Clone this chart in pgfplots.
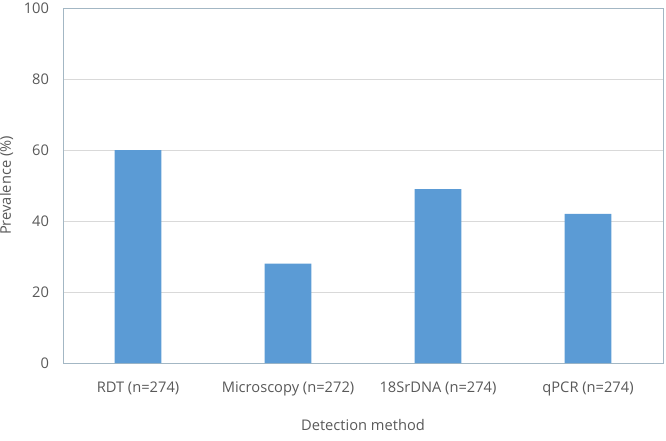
\documentclass[border=0pt]{standalone}
\usepackage{pgfplots}
\pgfplotsset{compat=1.18}
\usepackage{fontspec}
\setmainfont{Open Sans}
\definecolor{barblue}{HTML}{5B9BD5}
\definecolor{txtgray}{HTML}{595959}
\definecolor{gridgray}{HTML}{D9D9D9}
\definecolor{axisline}{HTML}{A3B7C4}
\begin{document}
\begin{tikzpicture}
  % 1 px of the reference = 0.75pt
  \useasboundingbox (0pt,0pt) rectangle (499.5pt,330pt);
  \begin{axis}[
      at={(47.25pt,57.75pt)}, anchor=south west,
      scale only axis,
      width=450pt, height=266.25pt,
      xmin=-0.5, xmax=3.5,
      ymin=0, ymax=100,
      ytick={0,20,...,100},
      xtick=data,
      xticklabels={RDT (n=274), Microscopy (n=272), 18SrDNA (n=274), qPCR (n=274)},
      ybar, bar width=0.313,
      ymajorgrids, grid style={gridgray, line width=0.75pt},
      axis line style={axisline, line width=0.75pt},
      tick style={draw=none},
      ticklabel style={font=\fontsize{11pt}{13pt}\selectfont, text=txtgray},
      /pgf/number format/assume math mode=true,
      xticklabel style={yshift=-6pt},
      yticklabel style={xshift=-7pt},
      xlabel={Detection method},
      ylabel={Prevalence (\%)},
      label style={font=\fontsize{11pt}{13pt}\selectfont, text=txtgray},
      xlabel style={yshift=-11pt},
      ylabel style={yshift=1pt},
  ]
    \addplot[fill=barblue, draw=none] coordinates {(0,60) (1,28) (2,49) (3,42)};
  \end{axis}
\end{tikzpicture}
\end{document}
